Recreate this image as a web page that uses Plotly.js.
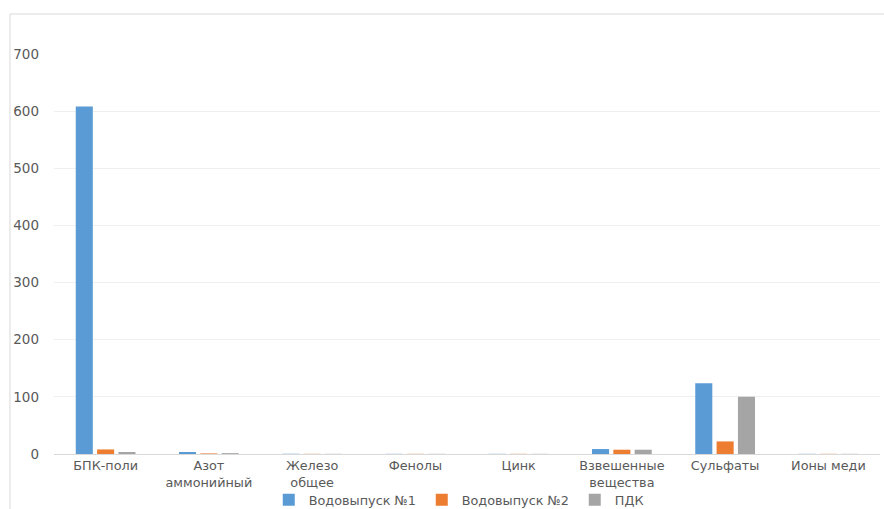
<!DOCTYPE html>
<html><head><meta charset="utf-8">
<script src="https://cdn.plot.ly/plotly-3.0.1.min.js"></script>
<style>html,body{margin:0;padding:0;background:#fff;}#c{width:884px;height:509px;}</style>
</head><body><div id="c"></div>
<script>
const categories = ["БПК-поли", "Азот<br>аммонийный", "Железо<br>общее", "Фенолы", "Цинк", "Взвешенные<br>вещества", "Сульфаты", "Ионы меди"];
const seriesNames = ["Водовыпуск №1", "Водовыпуск №2", "ПДК"];
const vyp1 = [608, 3.5, 0.4, 0.3, 0.3, 8.7, 124, 0.3];
const vyp2 = [8, 1.0, 0.3, 0.3, 0.3, 7.5, 22, 0.3];
const pdk = [3.5, 1.5, 0.3, 0.3, 0.3, 7.5, 100, 0.3];
const yTicks = [0, 100, 200, 300, 400, 500, 600, 700];
const colors = ["#5b9bd5", "#ed7d31", "#a5a5a5"];
const yFont = {family: "DejaVu Sans, sans-serif", size: 13.5, color: "#595959"};
const xFont = {family: "DejaVu Sans, sans-serif", size: 12.8, color: "#595959"};
const legFont = {family: "DejaVu Sans, sans-serif", size: 12.8, color: "#595959"};
const data = [vyp1, vyp2, pdk].map((v, i) => ({
  type: "bar", x: categories, y: v, name: seriesNames[i],
  marker: {color: colors[i]}, hoverinfo: "none"
}));
const layout = {
  width: 884, height: 509,
  margin: {l: 54, r: 4, t: 54, b: 55},
  paper_bgcolor: "#fff", plot_bgcolor: "#fff",
  font: yFont,
  bargap: 0.38, bargroupgap: 0.2,
  showlegend: true,
  legend: {orientation: "h", x: 0.26, xanchor: "left", xref: "paper", yref: "container", y: 0.018, yanchor: "middle",
           font: legFont, entrywidth: 108, bgcolor: "rgba(0,0,0,0)"},
  xaxis: {showgrid: false, showline: true, linecolor: "#d9d9d9", ticks: "", tickfont: xFont, zeroline: false, fixedrange: true, automargin: false},
  yaxis: {range: [0, 700], tickvals: yTicks, ticktext: yTicks.map(String), showgrid: true, gridcolor: "#efefef",
          zeroline: false, showline: false, ticks: "", tickfont: yFont, ticklabelstandoff: 14, fixedrange: true, automargin: false},
  shapes: [
    {type: "line", xref: "paper", yref: "paper", x0: -0.0533, x1: 1.01, y0: 1.1, y1: 1.1, line: {color: "#d9d9d9", width: 1}},
    {type: "line", xref: "paper", yref: "paper", x0: -0.0533, x1: -0.0533, y0: 1.1, y1: -0.2, line: {color: "#d9d9d9", width: 1}}
  ]
};
Plotly.newPlot("c", data, layout, {displayModeBar: false, staticPlot: true});
</script></body></html>
